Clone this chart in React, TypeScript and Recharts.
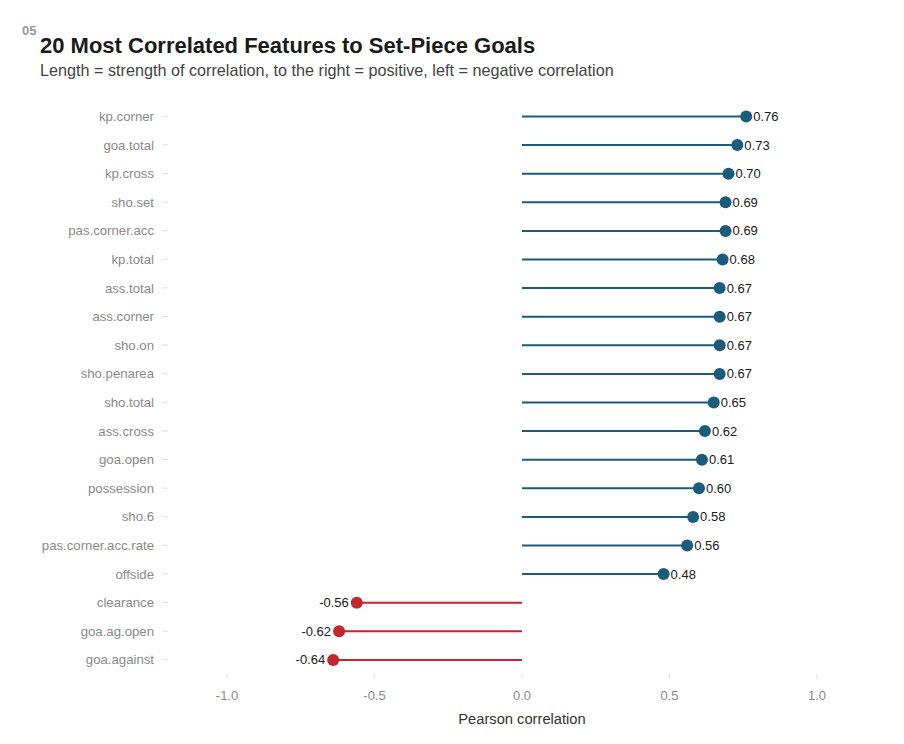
import { ComposedChart, Bar, XAxis, YAxis } from 'recharts';

const features = [
  'kp.corner', 'goa.total', 'kp.cross', 'sho.set', 'pas.corner.acc',
  'kp.total', 'ass.total', 'ass.corner', 'sho.on', 'sho.penarea',
  'sho.total', 'ass.cross', 'goa.open', 'possession', 'sho.6',
  'pas.corner.acc.rate', 'offside', 'clearance', 'goa.ag.open', 'goa.against',
];

const correlations = [
  0.76, 0.73, 0.70, 0.69, 0.69,
  0.68, 0.67, 0.67, 0.67, 0.67,
  0.65, 0.62, 0.61, 0.60, 0.58,
  0.56, 0.48, -0.56, -0.62, -0.64,
];

const xTicks = [-1, -0.5, 0, 0.5, 1];

const BLUE = '#1b5b7b';
const RED = '#c4262e';
const FONT = '"Liberation Sans", Arial, Helvetica, sans-serif';

const data = features.map((feature, i) => ({ feature, value: correlations[i] }));

// line from zero to the value, dot at the end, value printed beside it
const Lollipop = (props: any) => {
  const { x, y, width, height, payload } = props;
  const v = payload.value;
  const a = x;
  const b = x + width;
  const end = v >= 0 ? Math.max(a, b) : Math.min(a, b);
  const start = v >= 0 ? Math.min(a, b) : Math.max(a, b);
  const cy = y + height / 2;
  const color = v >= 0 ? BLUE : RED;
  return (
    <g>
      <line x1={start} x2={end} y1={cy} y2={cy} stroke={color} strokeWidth={2} />
      <circle cx={end} cy={cy} r={6} fill={color} />
      <text
        x={v >= 0 ? end + 7 : end - 8}
        y={cy}
        dy="0.35em"
        textAnchor={v >= 0 ? 'start' : 'end'}
        fontSize={13}
        fill="#1a1a1a"
        fontFamily={FONT}
      >
        {v.toFixed(2)}
      </text>
    </g>
  );
};

export default function App() {
  return (
    <div style={{ position: 'absolute', left: 0, top: 0, width: 904, height: 744, background: '#fff', fontFamily: FONT }}>
      <div style={{ position: 'absolute', left: 22, top: 23, fontSize: 13, fontWeight: 'bold', color: '#999' }}>05</div>
      <div style={{ position: 'absolute', left: 40, top: 33, fontSize: 22, fontWeight: 'bold', color: '#1a1a1a' }}>
        20 Most Correlated Features to Set-Piece Goals
      </div>
      <div style={{ position: 'absolute', left: 40, top: 61, fontSize: 16.2, color: '#444' }}>
        Length = strength of correlation, to the right = positive, left = negative correlation
      </div>
      <div style={{ position: 'absolute', left: 0, top: 0 }}>
        <ComposedChart
          width={904}
          height={744}
          data={data}
          layout="vertical"
          margin={{ top: 102, right: 28, bottom: 40, left: 0 }}
          barCategoryGap={0}
        >
          <XAxis
            type="number"
            domain={[-1.2, 1.2]}
            ticks={xTicks}
            tickFormatter={(v: number) => v.toFixed(1)}
            axisLine={false}
            tickLine={{ stroke: '#e0e0e0' }}
            tickSize={5}
            tickMargin={12}
            height={30}
            tick={{ fill: '#8a8a8a', fontSize: 13, fontFamily: FONT }}
          />
          <YAxis
            type="category"
            dataKey="feature"
            width={168}
            axisLine={false}
            tickLine={{ stroke: '#e0e0e0' }}
            tickSize={6}
            tickMargin={8}
            interval={0}
            tick={{ fill: '#8a8a8a', fontSize: 13.2, fontFamily: FONT }}
          />
          <Bar dataKey="value" shape={<Lollipop />} isAnimationActive={false} />
        </ComposedChart>
      </div>
      <div style={{ position: 'absolute', left: 0, width: 1044, top: 711, textAlign: 'center', fontSize: 14.7, color: '#333' }}>
        Pearson correlation
      </div>
    </div>
  );
}
